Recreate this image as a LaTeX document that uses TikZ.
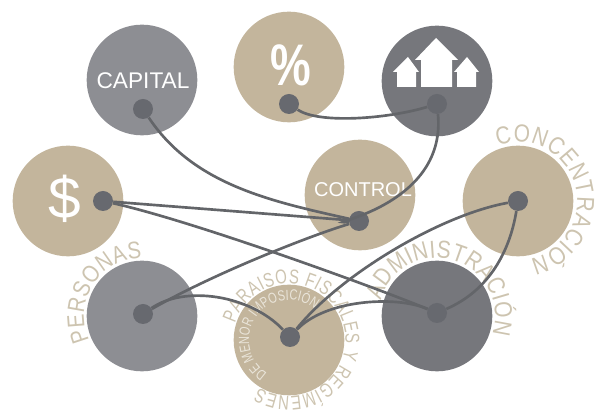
\documentclass[tikz,border=0pt]{standalone}
\usepackage{fontspec}
\setmainfont{Liberation Sans}
\newfontfamily\narrowsans[FakeStretch=0.85]{Liberation Sans}
\newfontfamily\tightsans[FakeStretch=0.75]{Liberation Sans}
\usetikzlibrary{decorations.text}

\definecolor{tan}{HTML}{C3B59C}
\definecolor{ringtan}{HTML}{CDC4B0}
\definecolor{innertan}{HTML}{EAE5DA}
\definecolor{lightgray}{HTML}{8D8E93}
\definecolor{darkgray}{HTML}{76777C}
\definecolor{dotgray}{HTML}{67696F}
\definecolor{linegray}{HTML}{636569}

\begin{document}
\begin{tikzpicture}[x=0.75pt,y=0.75pt,
  bigdisc/.style={circle,inner sep=0pt,minimum size=83pt},
  dot/.style={circle,fill=dotgray,inner sep=0pt,minimum size=15pt},
  whitetext/.style={text=white,inner sep=0pt},
  link/.style={draw=linegray,line width=2pt},
  house/.style={fill=white},
  ring/.style n args={4}{decoration={text along path,text align={fit to path},
    text={|#1\fontsize{#3}{#3}\selectfont\color{#4}|#2}},decorate}]
\useasboundingbox (0,0) rectangle (597,410);

\node[bigdisc,fill=lightgray] (capital) at (142,330) {};
\node[bigdisc,fill=tan] (percent) at (289,343) {};
\node[bigdisc,fill=darkgray] (homes) at (437,329) {};
\node[bigdisc,fill=tan] (dollar) at (68,209) {};
\node[bigdisc,fill=tan] (control) at (360,215) {};
\node[bigdisc,fill=tan] (concen) at (518,209) {};
\node[bigdisc,fill=lightgray] (personas) at (142,94) {};
\node[bigdisc,fill=tan] (paraisos) at (289,70) {};
\node[bigdisc,fill=darkgray] (admin) at (437,94) {};

\node[whitetext,font=\fontsize{17}{17}\selectfont] (capitaltext) at (143,329) {CAPITAL};
\node[whitetext,font=\fontsize{15}{15}\selectfont] (controltext) at (363,220) {CONTROL};
\node[whitetext,font=\fontsize{44}{44}\selectfont] (dollartext) at (65,211) {\$};
\node[whitetext,font=\bfseries\fontsize{44}{44}\selectfont,xscale=0.78] (percenttext) at (291,345) {\%};

\path[house] (436,372) -- (415,350) -- (421,350) -- (421,323) -- (452,323) -- (452,350) -- (458,350) -- cycle;
\path[house] (408,353) -- (393,338) -- (397,338) -- (397,323) -- (416,323) -- (416,338) -- (419,338) -- cycle;
\path[house] (467,353) -- (454,338) -- (457,338) -- (457,323) -- (476,323) -- (476,338) -- (479,338) -- cycle;

\path[ring={\narrowsans}{PERSONAS}{18}{ringtan}] (personas) ++(205:58) arc (205:90:58);
\path[ring={\narrowsans}{ADMINISTRACIÓN}{18.5}{ringtan}] (admin) ++(165:58) arc (165:-18:58);
\path[ring={\narrowsans}{CONCENTRACIÓN}{18.5}{ringtan}] (concen) ++(110:59) arc (110:-78:59);
\path[ring={\tightsans}{PARAISOS FISCALES Y REGÍMENES}{15}{ringtan}] (paraisos) ++(163:56.5) arc (163:-122:56.5);
\path[ring={\tightsans}{DE MENOR IMPOSICIÓN}{11}{innertan}] (paraisos) ++(237:40) arc (237:50:40);

\node[dot] (capitaldot) at (143,301) {};
\node[dot] (percentdot) at (289,306) {};
\node[dot] (homesdot) at (437,306) {};
\node[dot] (dollardot) at (103,209) {};
\node[dot] (controldot) at (359,189) {};
\node[dot] (concendot) at (518,209) {};
\node[dot] (personasdot) at (143,96) {};
\node[dot] (paraisosdot) at (290,73) {};
\node[dot] (admindot) at (437,97) {};

\path[link] (capitaldot) .. controls +(50,-75) and +(-90,20) .. (controldot);
\path[link] (percentdot) .. controls +(30,-20) and +(-50,-15) .. (homesdot);
\path[link] (homesdot) .. controls +(10,-106) and +(-46,-4) .. (controldot);
\path[link] (dollardot) -- (controldot);
\path[link] (dollardot) .. controls +(90,-20) and +(-60,25) .. (admindot);
\path[link] (personasdot) .. controls +(70,40) and +(-50,-15) .. (controldot);
\path[link] (personasdot) .. controls +(42,29) and +(-40,42) .. (paraisosdot);
\path[link] (paraisosdot) .. controls +(35,37) and +(-42,18) .. (admindot);
\path[link] (paraisosdot) .. controls +(50,62) and +(-78,-14) .. (concendot);
\path[link] (admindot) .. controls +(53,23) and +(-8,-49) .. (concendot);
\end{tikzpicture}
\end{document}
